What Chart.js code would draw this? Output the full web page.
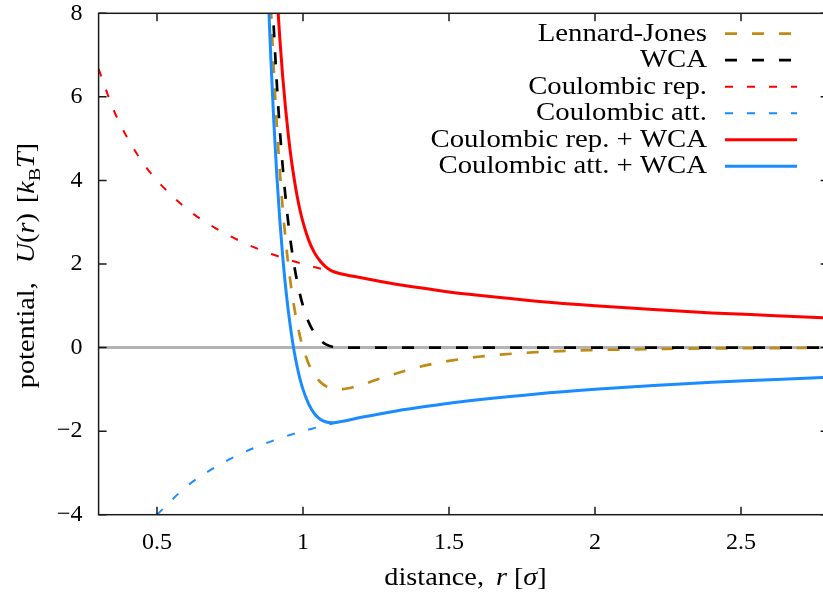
<!DOCTYPE html>
<html>
<head>
<meta charset="utf-8">
<script src="https://cdn.jsdelivr.net/npm/chart.js@4.4.0/dist/chart.umd.min.js"></script>
<style>
  html, body { margin: 0; padding: 0; background: #fff; overflow: hidden; }
</style>
</head>
<body>
<canvas id="myChart" width="830" height="594"></canvas>
<script>
// values (r in sigma, U in kT)
const ljR = [0.89, 0.9, 0.91, 0.92, 0.93, 0.94, 0.95, 0.96, 0.97, 0.98, 0.99, 1.0, 1.02, 1.04, 1.06, 1.08, 1.1, 1.122, 1.15, 1.2, 1.3, 1.4, 1.5, 1.6, 1.8, 2.0, 2.2, 2.4, 2.6, 2.8];
const ljU = [8.15, 6.64, 5.36, 4.28, 3.37, 2.61, 1.96, 1.42, 0.96, 0.58, 0.26, 0, -0.40, -0.66, -0.83, -0.93, -0.98, -1.0, -0.98, -0.89, -0.66, -0.46, -0.32, -0.22, -0.11, -0.06, -0.035, -0.02, -0.013, -0.008];

const wcaR = [0.895, 0.9, 0.91, 0.92, 0.93, 0.94, 0.95, 0.96, 0.97, 0.98, 0.99, 1.0, 1.02, 1.04, 1.06, 1.08, 1.1, 1.122, 1.5, 2.0, 2.5, 2.8];
const wcaU = [8.36, 7.64, 6.36, 5.28, 4.37, 3.61, 2.96, 2.42, 1.96, 1.58, 1.26, 1.0, 0.60, 0.34, 0.17, 0.07, 0.02, 0, 0, 0, 0, 0];

const repR = [0.3, 0.35, 0.4, 0.45, 0.5, 0.6, 0.7, 0.8, 0.9, 1.0, 1.122];
const repU = [6.67, 5.71, 5.0, 4.44, 4.0, 3.33, 2.86, 2.5, 2.22, 2.0, 1.78];

const attR = [0.5, 0.6, 0.7, 0.8, 0.9, 1.0, 1.122];
const attU = [-4.0, -3.33, -2.86, -2.5, -2.22, -2.0, -1.78];

const repWcaR = [0.9, 0.91, 0.92, 0.93, 0.94, 0.95, 0.96, 0.97, 0.98, 0.99, 1.0, 1.02, 1.04, 1.06, 1.08, 1.1, 1.122, 1.2, 1.3, 1.4, 1.5, 1.6, 1.8, 2.0, 2.2, 2.4, 2.6, 2.8];
const repWcaU = [9.86, 8.56, 7.46, 6.52, 5.74, 5.07, 4.50, 4.03, 3.62, 3.28, 3.0, 2.56, 2.26, 2.06, 1.92, 1.83, 1.78, 1.67, 1.54, 1.43, 1.33, 1.25, 1.11, 1.0, 0.91, 0.83, 0.77, 0.71];

const attWcaR = [0.88, 0.885, 0.89, 0.9, 0.91, 0.92, 0.93, 0.94, 0.95, 0.96, 0.97, 0.98, 0.99, 1.0, 1.02, 1.04, 1.06, 1.08, 1.1, 1.122, 1.2, 1.3, 1.4, 1.5, 1.6, 1.8, 2.0, 2.2, 2.4, 2.6, 2.8];
const attWcaU = [8.66, 7.74, 6.90, 5.41, 4.16, 3.11, 2.22, 1.48, 0.86, 0.34, -0.10, -0.46, -0.76, -1.0, -1.36, -1.59, -1.72, -1.78, -1.80, -1.78, -1.67, -1.54, -1.43, -1.33, -1.25, -1.11, -1.0, -0.91, -0.83, -0.77, -0.71];

const xTicks = [0.5, 1, 1.5, 2, 2.5];
const yTicks = [-4, -2, 0, 2, 4, 6, 8];

const serif = "'Liberation Serif', 'DejaVu Serif', serif";
const stretch = 1.13; // the original font (CM) runs wider than Times

function pts(xs, ys) {
  return xs.map((v, i) => ({ x: v, y: ys[i] }));
}

function segFont(s, size) {
  return (s.it ? "italic " : "") + (s.sub ? size * 0.7 : size) + "px " + serif;
}

// rich text centred on the origin: roman / italic / subscript pieces, gap = extra px before
function drawRich(ctx, segs, size) {
  const widths = segs.map(s => {
    ctx.font = segFont(s, size);
    return ctx.measureText(s.t).width * stretch + (s.gap || 0);
  });
  const total = widths.reduce((a, b) => a + b, 0);
  let x = -total / 2;
  segs.forEach((s, i) => {
    ctx.font = segFont(s, size);
    ctx.save();
    ctx.translate(x + (s.gap || 0), s.sub ? size * 0.25 : 0);
    ctx.scale(stretch, 1);
    ctx.fillText(s.t, 0, 0);
    ctx.restore();
    x += widths[i];
  });
}

const framePlugin = {
  id: "frame",
  beforeDatasetsDraw(chart) {
    const { ctx, chartArea: a, scales: { y } } = chart;
    const y0 = y.getPixelForValue(0);
    ctx.save();
    ctx.strokeStyle = "#b3b3b3";
    ctx.lineWidth = 3;
    ctx.beginPath();
    ctx.moveTo(a.left, y0);
    ctx.lineTo(a.right, y0);
    ctx.stroke();
    ctx.restore();
  },
  afterDatasetsDraw(chart) {
    const { ctx, chartArea: a, scales: { x, y } } = chart;
    ctx.save();
    ctx.strokeStyle = "#1a1a1a";
    ctx.lineWidth = 1.5;
    ctx.strokeRect(a.left, a.top, a.right - a.left, a.bottom - a.top);
    ctx.beginPath();
    xTicks.forEach(v => {
      const px = x.getPixelForValue(v);
      ctx.moveTo(px, a.bottom); ctx.lineTo(px, a.bottom - 8);
      ctx.moveTo(px, a.top); ctx.lineTo(px, a.top + 8);
    });
    yTicks.forEach(v => {
      const py = y.getPixelForValue(v);
      ctx.moveTo(a.left, py); ctx.lineTo(a.left + 8, py);
      ctx.moveTo(a.right, py); ctx.lineTo(a.right - 8, py);
    });
    ctx.stroke();

    // axis titles
    ctx.fillStyle = "#000";
    ctx.textBaseline = "alphabetic";
    ctx.textAlign = "left";
    ctx.save();
    ctx.translate(465.5, 585);
    drawRich(ctx, [
      { t: "distance," }, { t: "r", it: true, gap: 12 }, { t: "[", gap: 7 }, { t: "\u03c3", it: true }, { t: "]" }
    ], 25);
    ctx.restore();
    ctx.save();
    ctx.translate(34, 265.5);
    ctx.rotate(-Math.PI / 2);
    drawRich(ctx, [
      { t: "potential," }, { t: "U", it: true, gap: 19 }, { t: "(" }, { t: "r", it: true }, { t: ")" },
      { t: "[", gap: 10 }, { t: "k", it: true }, { t: "B", sub: true }, { t: "T", it: true }, { t: "]" }
    ], 25);
    ctx.restore();

    // key
    ctx.font = "25px " + serif;
    chart.data.datasets.forEach((ds, i) => {
      const by = 40.7 + i * 26.5;
      const w = ctx.measureText(ds.label).width * 1.15;
      ctx.save();
      ctx.translate(707 - w, by);
      ctx.scale(1.15, 1);
      ctx.fillText(ds.label, 0, 0);
      ctx.restore();
      ctx.save();
      ctx.strokeStyle = ds.borderColor;
      ctx.lineWidth = ds.borderWidth;
      ctx.setLineDash(ds.borderDash || []);
      ctx.beginPath();
      ctx.moveTo(725, by - 7);
      ctx.lineTo(797, by - 7);
      ctx.stroke();
      ctx.restore();
    });
    ctx.restore();
  }
};

const gold = "#c08b14";
const red = "#ff0000";
const blue = "#1a8cff";

const data = {
  datasets: [
    { label: "Lennard-Jones", data: pts(ljR, ljU), borderColor: gold, borderWidth: 2.7, borderDash: [12, 15], order: 6 },
    { label: "WCA", data: pts(wcaR, wcaU), borderColor: "#000", borderWidth: 2.7, borderDash: [12, 15], order: 5 },
    { label: "Coulombic rep.", data: pts(repR, repU), borderColor: red, borderWidth: 2, borderDash: [8, 14], order: 4 },
    { label: "Coulombic att.", data: pts(attR, attU), borderColor: blue, borderWidth: 2, borderDash: [8, 14], order: 3 },
    { label: "Coulombic rep. + WCA", data: pts(repWcaR, repWcaU), borderColor: red, borderWidth: 3, order: 2 },
    { label: "Coulombic att. + WCA", data: pts(attWcaR, attWcaU), borderColor: blue, borderWidth: 3, order: 1 }
  ]
};

const config = {
  type: "line",
  data: data,
  options: {
    responsive: false,
    animation: false,
    layout: { padding: { top: 13.3, right: 1.4, left: 0, bottom: 0 } },
    plugins: { legend: { display: false }, tooltip: { enabled: false } },
    elements: {
      point: { radius: 0 },
      line: { cubicInterpolationMode: "monotone", fill: false }
    },
    scales: {
      x: {
        type: "linear",
        min: 0.3,
        max: 2.8,
        grid: { display: false, drawTicks: false },
        border: { display: false },
        afterBuildTicks: s => { s.ticks = xTicks.map(v => ({ value: v })); },
        afterFit: s => { s.height = 79.3; },
        ticks: {
          color: "#000",
          font: { family: serif, size: 24, lineHeight: 1 },
          padding: 16,
          maxRotation: 0,
          autoSkip: false,
          callback: v => String(v)
        }
      },
      y: {
        type: "linear",
        min: -4,
        max: 8,
        grid: { display: false, drawTicks: false },
        border: { display: false },
        afterBuildTicks: s => { s.ticks = yTicks.map(v => ({ value: v })); },
        afterFit: s => { s.width = 98.6; s.paddingTop = 0; s.paddingBottom = 0; },
        ticks: {
          color: "#000",
          font: { family: serif, size: 24, lineHeight: 0.3 },
          padding: 16,
          autoSkip: false,
          callback: v => String(v).replace("-", "\u2212")
        }
      }
    }
  },
  plugins: [framePlugin]
};

new Chart(document.getElementById("myChart"), config);
</script>
</body>
</html>
